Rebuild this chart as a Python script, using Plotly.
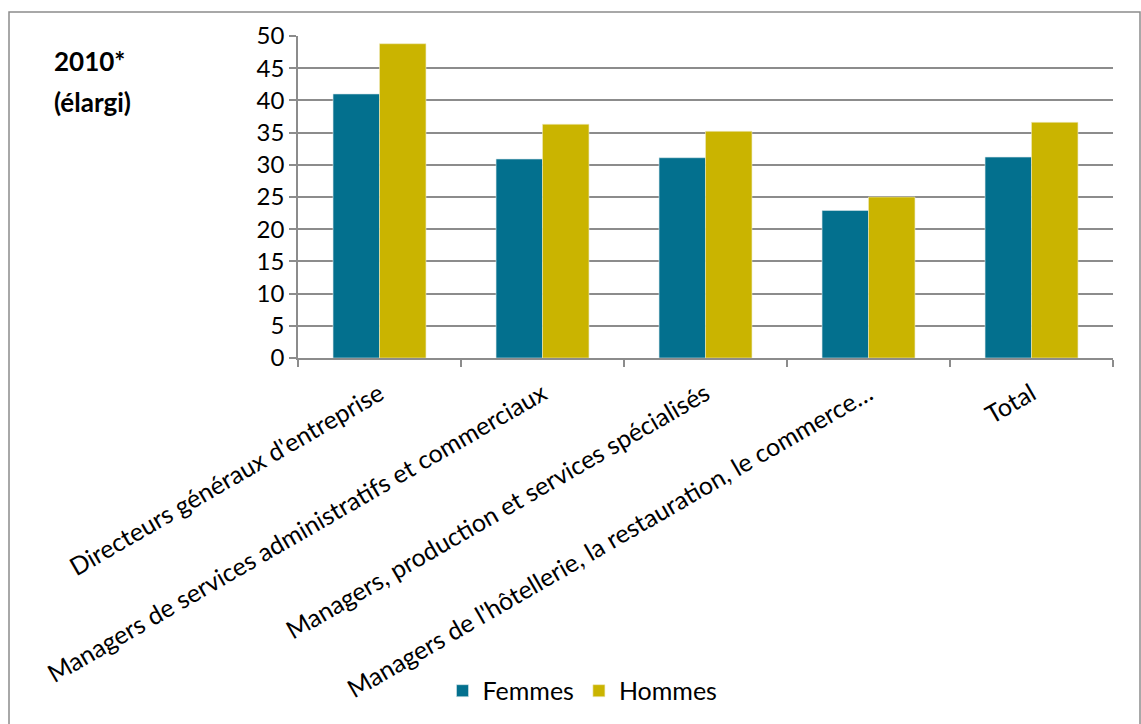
import plotly.graph_objects as go

categories = [
    "Directeurs généraux d'entreprise",
    "Managers de services administratifs et commerciaux",
    "Managers, production et services spécialisés",
    "Managers de l'hôtellerie, la restauration, le commerce…",
    "Total",
]
femmes = [41.0, 30.9, 31.1, 22.9, 31.2]
hommes = [48.8, 36.3, 35.2, 25.0, 36.6]
y_ticks = [0, 5, 10, 15, 20, 25, 30, 35, 40, 45, 50]

FONT = "Lato, 'Open Sans', sans-serif"
GRID = "#8c8c8c"

fig = go.Figure()
fig.add_trace(go.Bar(name="Femmes", x=categories, y=femmes,
                     marker=dict(color="#03708e", line=dict(color="#d8e6ea", width=0.6))))
fig.add_trace(go.Bar(name="Hommes", x=categories, y=hommes,
                     marker=dict(color="#cab400", line=dict(color="#efe9c0", width=0.6))))

fig.update_layout(
    width=1141, height=724,
    margin=dict(l=298, r=28, t=36, b=366, autoexpand=False),
    paper_bgcolor="white", plot_bgcolor="white",
    barmode="group", bargap=0.43, bargroupgap=0,
    font=dict(family=FONT, size=24, color="black"),
    legend=dict(orientation="h", x=0.5 - 123 / 815, xanchor="center", y=-1.034, yanchor="middle",
                font=dict(size=25), itemwidth=30, traceorder="normal"),
    showlegend=True,
)

fig.update_xaxes(
    showgrid=False, showline=True, linecolor=GRID, linewidth=1.5,
    ticks="outside", tickson="boundaries", ticklen=7, tickcolor=GRID, tickwidth=1.5,
    tickangle=-30, tickfont=dict(size=25), ticklabelstandoff=10,
)
fig.update_yaxes(
    range=[0, 50], tickvals=y_ticks, showgrid=True, gridcolor=GRID, gridwidth=1.5,
    showline=True, linecolor=GRID, linewidth=1.5, zeroline=False,
    ticks="outside", ticklen=7, tickcolor=GRID, tickwidth=1.5,
    tickfont=dict(size=24),
)

# Chart frame (left and top edges visible inside the page)
fig.add_shape(type="rect", xref="paper", yref="paper",
              x0=(9 - 298) / 815, x1=(1140 - 298) / 815,
              y0=-(730 - 358) / 322, y1=(358 - 12) / 322,
              line=dict(color="#8c8c8c", width=1.5), fillcolor="rgba(0,0,0,0)", layer="below")

fig.add_annotation(text="<b>2010*</b>", xref="paper", yref="paper",
                   x=(52 - 298) / 815, y=(358 - 61) / 322, xanchor="left", yanchor="middle",
                   showarrow=False, font=dict(size=26, family=FONT))
fig.add_annotation(text="<b>(élargi)</b>", xref="paper", yref="paper",
                   x=(52 - 298) / 815, y=(358 - 102) / 322, xanchor="left", yanchor="middle",
                   showarrow=False, font=dict(size=26, family=FONT))

fig.write_html("out.html")
